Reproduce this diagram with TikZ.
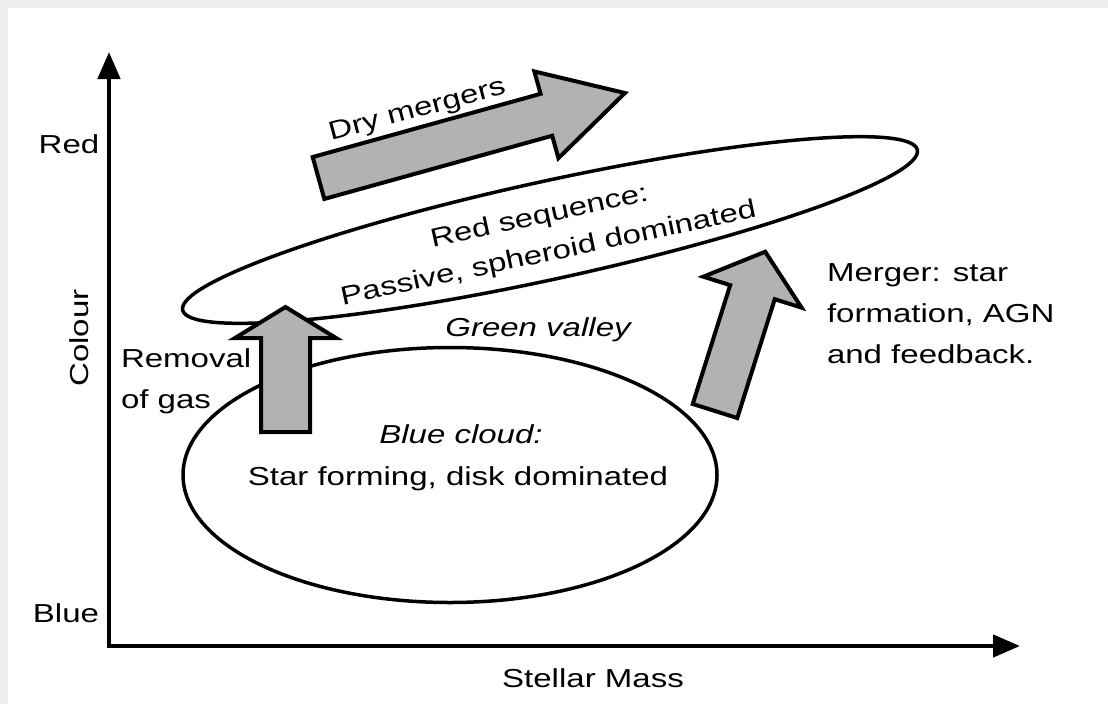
\documentclass[tikz,border=0pt]{standalone}
\usepackage{fontspec}
\setmainfont[FakeStretch=1.27]{Liberation Sans}
\usetikzlibrary{arrows.meta,shapes.geometric}
\begin{document}
\begin{tikzpicture}[x=1pt,y=-1pt,
  lbl/.style={font=\fontsize{26}{41}\selectfont, inner sep=0pt, outer sep=0pt},
  ilbl/.style={lbl, font=\fontsize{26}{41}\selectfont\itshape},
  axisline/.style={line width=4.5pt, line join=miter,
     {Triangle[length=27pt,width=22pt]}-{Triangle[length=27pt,width=22pt]}},
  region/.style={draw, ellipse, line width=3.5pt, inner sep=0pt, outer sep=0pt},
  barrow/.style={draw, line width=4pt, fill=gray!60, line join=miter, miter limit=4},
  pics/blockarr/.style n args={4}{code={
    \draw[barrow] (0,{-#2/2}) -- ({#1-#4},{-#2/2}) -- ({#1-#4},{-#3/2}) -- (#1,0)
      -- ({#1-#4},{#3/2}) -- ({#1-#4},{#2/2}) -- (0,{#2/2}) -- cycle;
  }},
]
% background
\fill[black!7] (0,0) rectangle (1108,704);
\fill[white] (8,8) rectangle (1108,704);
\useasboundingbox (0,0) rectangle (1108,704);

% axes
\coordinate (origin) at (109,646);
\coordinate (ytip) at (109,52);
\coordinate (xtip) at (1020,646);
\draw[axisline] (ytip) -- (origin) -- (xtip);

\node[lbl, anchor=base] (red) at (69,153) {Red};
\node[lbl, anchor=base] (blue) at (66,622) {Blue};
\node[lbl, anchor=base, rotate=90] (colour) at (88,338) {Colour};
\node[lbl, anchor=base] (mass) at (593,687) {Stellar Mass};

% regions
\node[region, minimum width=752pt, minimum height=98pt, rotate=12.3] (redseq) at (550,230) {};
\node[region, minimum width=534pt, minimum height=255pt] (bluecloud) at (450,475) {};

\node[lbl, anchor=base, rotate=12.4] (rs1) at (541,224) {Red sequence:};
\node[lbl, anchor=base, rotate=12] (rs2) at (550,261) {Passive, spheroid dominated};
\node[ilbl, anchor=base] (green) at (538,336) {Green valley};
\node[ilbl, anchor=base] (bc1) at (461,443) {Blue cloud:};
\node[lbl, anchor=base] (bc2) at (458,485) {Star forming, disk dominated};

% block arrows
\pic[rotate=15.5] (dry) at (318.5,178) {blockarr={318}{43.5}{90}{81.5}};
\pic[rotate=90] (removal) at (285.5,432) {blockarr={125}{49}{101}{31}};
\pic[rotate=72.5] (merger) at (715,411) {blockarr={167}{46.7}{103}{42.4}};

\node[lbl, anchor=base, rotate=14.9] (drylbl) at (419,117) {Dry mergers};
\node[lbl, anchor=base west, align=left] (remlbl) at (121,408) {Removal\\of gas};
\node[lbl, anchor=base west, align=left] (merglbl) at (827,363) {Merger: star\\formation, AGN\\and feedback.};
\end{tikzpicture}
\end{document}
